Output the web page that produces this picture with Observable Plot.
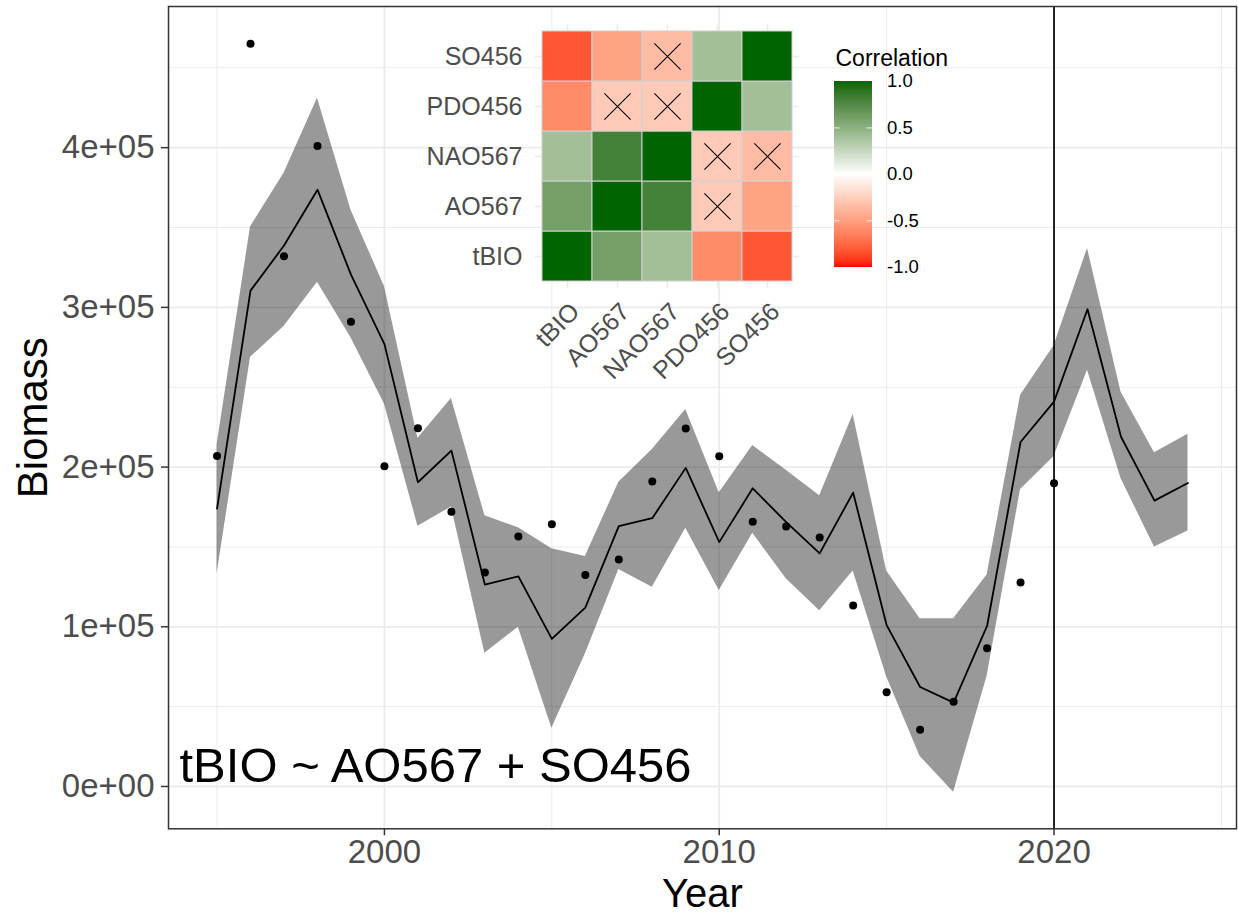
<!DOCTYPE html>
<html><head><meta charset="utf-8">
<script src="https://cdn.jsdelivr.net/npm/d3@7"></script>
<script src="https://cdn.jsdelivr.net/npm/@observablehq/plot@0.6"></script>
<style>
html,body{margin:0;padding:0;background:#fff;}
#wrap{position:relative;width:1238px;height:915px;overflow:hidden;background:#fff;}
#wrap svg{position:absolute;left:0;top:0;}
</style></head><body><div id="wrap"></div>
<script>
// ---- main series ----
const years    = [1995,1996,1997,1998,1999,2000,2001,2002,2003,2004,2005,2006,2007,2008,2009,2010,2011,2012,2013,2014,2015,2016,2017,2018,2019,2020,2021,2022,2023,2024];
const fitted   = [174000,310500,338700,373700,320500,277000,190500,210300,126400,131600,92400,112000,163000,168000,199500,153000,186700,165500,146000,184000,101000,62300,52500,100500,215700,241000,298800,219000,179000,190000];
const lower    = [133000,268700,288000,315700,281000,239500,163000,175000,83400,99700,36500,83000,135800,124800,161700,122700,158600,130000,110000,135000,68700,18800,-3600,69000,186000,206700,260700,192800,149900,160000];
const upper    = [214000,350500,384000,431000,361000,313000,218000,243000,169600,162000,148800,144000,190500,211000,236000,184000,213500,198000,182000,233000,135000,105000,105000,132500,245000,276000,336900,247000,208900,220500];
const observed = [207000,465000,332000,401000,291000,200500,224300,172100,134000,156500,164200,132500,142100,190900,224100,206800,165700,162800,155900,113300,59000,35500,53000,86500,127700,189900];
const predictionYear = 2020;
const formulaLabel = "tBIO ~ AO567 + SO456";
const xTicks = [2000, 2010, 2020];
const xMinor = [1995, 2005, 2015, 2025];
const yTicks = [0, 100000, 200000, 300000, 400000];
const yMinor = [50000, 150000, 250000, 350000, 450000];

// ---- correlation inset ----
const corrVars = ["tBIO", "AO567", "NAO567", "PDO456", "SO456"];
const corrRows = [
  [ 1.00,  0.60,  0.40, -0.60, -0.82],
  [ 0.60,  1.00,  0.80, -0.28, -0.48],
  [ 0.40,  0.80,  1.00, -0.28, -0.36],
  [-0.60, -0.28, -0.28,  1.00,  0.40],
  [-0.82, -0.48, -0.36,  0.40,  1.00]
];
const insignificant = [["AO567", "PDO456"], ["NAO567", "PDO456"], ["NAO567", "SO456"]];
const legendTicks = [-1, -0.5, 0, 0.5, 1];
const legendTitle = "Correlation";

// ---- build ----
const font = "'Liberation Sans', Arial, Helvetica, sans-serif";
function sci(d) {
  if (d === 0) return "0e+00";
  const e = Math.floor(Math.log10(Math.abs(d)));
  const m = Math.round(d / Math.pow(10, e));
  return `${m}e${e < 0 ? "-" : "+"}${String(Math.abs(e)).padStart(2, "0")}`;
}
const series = years.map((year, i) => ({year, fit: fitted[i], lower: lower[i], upper: upper[i], obs: i < observed.length ? observed[i] : null}));
const obsData = series.filter(d => d.obs != null);

const H = 915, W = 1238;
const frameBottom = 828.3;

const main = Plot.plot({
  width: W, height: H,
  marginLeft: 168, marginRight: 2, marginTop: 6, marginBottom: H - frameBottom,
  style: {fontFamily: font, background: "transparent", overflow: "visible"},
  x: {domain: [1993.55, 2025.45]},
  y: {domain: [-26500, 488400]},
  marks: [
    Plot.gridX(xMinor, {stroke: "#EBEBEB", strokeOpacity: 1, strokeWidth: 1}),
    Plot.gridY(yMinor, {stroke: "#EBEBEB", strokeOpacity: 1, strokeWidth: 1}),
    Plot.gridX(xTicks, {stroke: "#EBEBEB", strokeOpacity: 1, strokeWidth: 1.8}),
    Plot.gridY(yTicks, {stroke: "#EBEBEB", strokeOpacity: 1, strokeWidth: 1.8}),
    Plot.areaY(series, {x: "year", y1: "lower", y2: "upper", fill: "black", fillOpacity: 0.4}),
    Plot.lineY(series, {x: "year", y: "fit", stroke: "black", strokeWidth: 1.8}),
    Plot.dot(obsData, {x: "year", y: "obs", r: 4, fill: "black"}),
    Plot.ruleX([predictionYear], {stroke: "black", strokeWidth: 1.7}),
    Plot.text([formulaLabel], {frameAnchor: "bottom-left", dx: 11, dy: 781.7 - frameBottom, textAnchor: "start", lineAnchor: "bottom", fontSize: 49, fill: "black"}),
    Plot.frame({stroke: "#333333", strokeWidth: 1.5}),
    Plot.axisX(xTicks, {tickSize: 7, tickPadding: 4.2, fontSize: 33, fill: "#4D4D4D", stroke: "#333333", strokeWidth: 1.5, tickFormat: d => String(d), label: null}),
    Plot.axisY(yTicks, {tickSize: 7, tickPadding: 7, fontSize: 33, fill: "#4D4D4D", stroke: "#333333", strokeWidth: 1.5, tickFormat: sci, label: null}),
    Plot.text(["Year"], {frameAnchor: "bottom", dy: 906.4 - frameBottom, textAnchor: "middle", lineAnchor: "bottom", fontSize: 40, fill: "black"}),
    Plot.text(["Biomass"], {frameAnchor: "left", dx: 46 - 168, rotate: -90, textAnchor: "middle", lineAnchor: "bottom", fontSize: 42, fill: "black"})
  ]
});

const cells = [];
corrVars.forEach((r, i) => corrVars.forEach((c, j) => cells.push({
  row: r, col: c, value: corrRows[i][j],
  insig: insignificant.some(([a, b]) => (a === r && b === c) || (a === c && b === r))
})));
const colorScale = () => ({type: "linear", domain: [-1, 0, 1], range: ["red", "white", "darkgreen"], interpolate: "lab"});

const inset = Plot.plot({
  width: W, height: H,
  marginLeft: 535, marginRight: W - 799, marginTop: 24.5, marginBottom: H - 288,
  style: {fontFamily: font, background: "transparent", overflow: "visible"},
  x: {type: "band", domain: corrVars, padding: 0, insetLeft: 6, insetRight: 6},
  y: {type: "band", domain: [...corrVars].reverse(), padding: 0, insetTop: 5, insetBottom: 5},
  color: colorScale(),
  marks: [
    Plot.gridX(corrVars, {stroke: "#EBEBEB", strokeOpacity: 1, strokeWidth: 1.5}),
    Plot.gridY(corrVars, {stroke: "#EBEBEB", strokeOpacity: 1, strokeWidth: 1.5}),
    Plot.cell(cells, {x: "col", y: "row", fill: "value", stroke: "#D0D0D0", strokeWidth: 1}),
    Plot.dot(cells.filter(d => d.insig), {x: "col", y: "row", symbol: "times", r: 12, fill: "none", stroke: "black", strokeWidth: 1.1}),
    Plot.axisY({tickSize: 0, tickPadding: 13, fontSize: 25, fill: "#4D4D4D", label: null}),
    Plot.axisX({tickSize: 0, tickPadding: 12, tickRotate: -45, textAnchor: "end", lineAnchor: "top", dx: 1, fontSize: 25, fill: "#4D4D4D", label: null})
  ]
});

const ramp = d3.range(-1, 1, 0.005);
const bar = Plot.plot({
  width: W, height: H,
  marginLeft: 834, marginRight: W - 872, marginTop: 81, marginBottom: H - 266.7,
  style: {fontFamily: font, background: "transparent", overflow: "visible"},
  x: {domain: [0, 1], axis: null},
  y: {domain: [-1, 1], axis: null},
  color: colorScale(),
  marks: [
    Plot.rect(ramp, {x1: 0, x2: 1, y1: d => d, y2: d => Math.min(1, d + 0.03), fill: d => d + 0.0025, shapeRendering: "crispEdges"}),
    Plot.ruleY(legendTicks.slice(1, -1), {x1: 0, x2: 0.15, stroke: "white", strokeOpacity: 0.8, strokeWidth: 1}),
    Plot.ruleY(legendTicks.slice(1, -1), {x1: 0.85, x2: 1, stroke: "white", strokeOpacity: 0.8, strokeWidth: 1}),
    Plot.axisY(legendTicks, {anchor: "right", tickSize: 0, tickPadding: 14.5, fontSize: 18.5, fill: "black", textAnchor: "start", tickFormat: d => d.toFixed(1), label: null}),
    Plot.text([legendTitle], {frameAnchor: "top-left", dx: 1, dy: 65.7 - 81, textAnchor: "start", lineAnchor: "bottom", fontSize: 23, fill: "black"})
  ]
});

const wrap = document.getElementById("wrap");
wrap.append(main, inset, bar);
</script>
</body></html>
